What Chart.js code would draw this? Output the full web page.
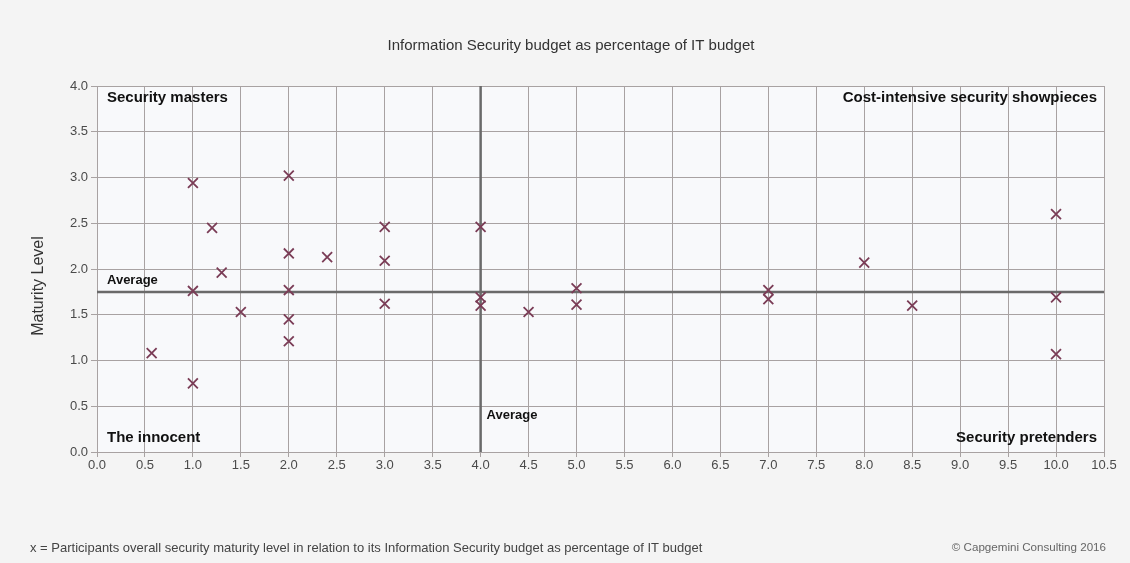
<!DOCTYPE html>
<html>
<head>
<meta charset="utf-8">
<script src="https://cdn.jsdelivr.net/npm/chart.js@4.4.1/dist/chart.umd.min.js"></script>
<style>
  html, body { margin: 0; padding: 0; background: #f4f4f4; }
  #wrap { width: 1130px; height: 563px; }
</style>
</head>
<body>
<div id="wrap"><canvas id="c" width="1130" height="563"></canvas></div>
<script>
// budget share (% of IT budget) and maturity level per participant
const budgetPct = [0.57, 1.0, 1.0, 1.0, 1.2, 1.3, 1.5, 2.0, 2.0, 2.0, 2.0, 2.0, 2.4,
                   3.0, 3.0, 3.0, 4.0, 4.0, 4.0, 4.5, 5.0, 5.0, 7.0, 7.0, 8.0, 8.5,
                   10.0, 10.0, 10.0];
const maturity  = [1.08, 2.94, 1.76, 0.75, 2.45, 1.96, 1.53, 3.02, 2.17, 1.77, 1.45, 1.21, 2.13,
                   2.46, 2.09, 1.62, 2.46, 1.69, 1.60, 1.53, 1.79, 1.61, 1.77, 1.67, 2.07, 1.60,
                   2.60, 1.69, 1.07];
const avgMaturity = 1.75;
const avgBudget = 4.0;
const xTicks = [0, 0.5, 1, 1.5, 2, 2.5, 3, 3.5, 4, 4.5, 5, 5.5, 6, 6.5, 7, 7.5, 8, 8.5, 9, 9.5, 10, 10.5];
const yTicks = [0, 0.5, 1, 1.5, 2, 2.5, 3, 3.5, 4];

const FONT = '"Liberation Sans", Arial, Helvetica, sans-serif';
const points = budgetPct.map((x, i) => ({ x: x, y: maturity[i] }));

const decor = {
  id: 'decor',
  beforeDraw(chart) {
    const { ctx, chartArea: a } = chart;
    ctx.save();
    ctx.fillStyle = '#f4f4f4';
    ctx.fillRect(0, 0, chart.width, chart.height);
    ctx.fillStyle = '#f8f9fb';
    ctx.fillRect(a.left, a.top, a.right - a.left, a.bottom - a.top);
    ctx.restore();
  },
  afterDraw(chart) {
    const { ctx, chartArea: a, scales } = chart;
    ctx.save();
    // title
    ctx.fillStyle = '#333';
    ctx.font = '15px ' + FONT;
    ctx.textAlign = 'center';
    ctx.textBaseline = 'middle';
    ctx.fillText('Information Security budget as percentage of IT budget', 571, 46);
    // y axis title
    ctx.save();
    ctx.translate(39, 286);
    ctx.rotate(-Math.PI / 2);
    ctx.fillStyle = '#333';
    ctx.font = '16px ' + FONT;
    ctx.fillText('Maturity Level', 0, 0);
    ctx.restore();
    // quadrant labels
    ctx.fillStyle = '#111';
    ctx.font = 'bold 15px ' + FONT;
    ctx.textBaseline = 'middle';
    ctx.textAlign = 'left';
    ctx.fillText('Security masters', a.left + 10, a.top + 12);
    ctx.fillText('The innocent', a.left + 10, a.bottom - 14);
    ctx.textAlign = 'right';
    ctx.fillText('Cost-intensive security showpieces', a.right - 7, a.top + 12);
    ctx.fillText('Security pretenders', a.right - 7, a.bottom - 14);
    // average labels
    ctx.font = 'bold 13px ' + FONT;
    ctx.textAlign = 'left';
    const yAvg = scales.y.getPixelForValue(avgMaturity);
    const xAvg = scales.x.getPixelForValue(avgBudget);
    ctx.fillText('Average', a.left + 10, yAvg - 11);
    ctx.fillText('Average', xAvg + 6, a.bottom - 37);
    // footer
    ctx.fillStyle = '#444';
    ctx.font = '13px ' + FONT;
    ctx.textAlign = 'left';
    ctx.fillText('x = Participants overall security maturity level in relation to its Information Security budget as percentage of IT budget', 30, 548);
    ctx.fillStyle = '#666';
    ctx.font = '11.6px ' + FONT;
    ctx.textAlign = 'right';
    ctx.fillText('\u00a9 Capgemini Consulting 2016', 1106, 548);
    ctx.restore();
  }
};

new Chart(document.getElementById('c'), {
  type: 'scatter',
  data: {
    datasets: [
      {
        label: 'avgY',
        type: 'line',
        data: [{ x: 0, y: avgMaturity }, { x: 10.5, y: avgMaturity }],
        borderColor: '#6a6a6a',
        borderWidth: 2.5,
        pointRadius: 0,
        order: 2
      },
      {
        label: 'avgX',
        type: 'line',
        data: [{ x: avgBudget, y: 0 }, { x: avgBudget, y: 4 }],
        borderColor: '#6a6a6a',
        borderWidth: 2.5,
        pointRadius: 0,
        order: 2
      },
      {
        label: 'Participants',
        data: points,
        pointStyle: 'crossRot',
        pointRadius: 7,
        pointBorderWidth: 1.8,
        borderColor: '#7a3c56',
        backgroundColor: '#7a3c56',
        order: 1
      }
    ]
  },
  options: {
    responsive: false,
    animation: false,
    layout: { padding: { left: 0, right: 26, top: 86, bottom: 91 } },
    plugins: {
      legend: { display: false },
      title: { display: false },
      tooltip: { enabled: false }
    },
    scales: {
      x: {
        type: 'linear',
        min: 0,
        max: 10.5,
        afterBuildTicks: (s) => { s.ticks = xTicks.map(v => ({ value: v })); },
        afterFit: (s) => { s.height = 20; },
        grid: { color: '#a8a2a2', lineWidth: 1, tickLength: 5, drawTicks: true },
        border: { color: '#a8a2a2', width: 1 },
        ticks: {
          color: '#4a4a4a',
          font: { family: FONT, size: 13 },
          padding: 1,
          maxRotation: 0,
          callback: (v) => Number(v).toFixed(1)
        }
      },
      y: {
        type: 'linear',
        min: 0,
        max: 4,
        afterBuildTicks: (s) => { s.ticks = yTicks.map(v => ({ value: v })); },
        afterFit: (s) => { s.width = 97; },
        grid: { color: '#a8a2a2', lineWidth: 1, tickLength: 6, drawTicks: true },
        border: { color: '#a8a2a2', width: 1 },
        ticks: {
          color: '#4a4a4a',
          font: { family: FONT, size: 13 },
          padding: 3,
          callback: (v) => Number(v).toFixed(1)
        }
      }
    }
  },
  plugins: [decor]
});
</script>
</body>
</html>
